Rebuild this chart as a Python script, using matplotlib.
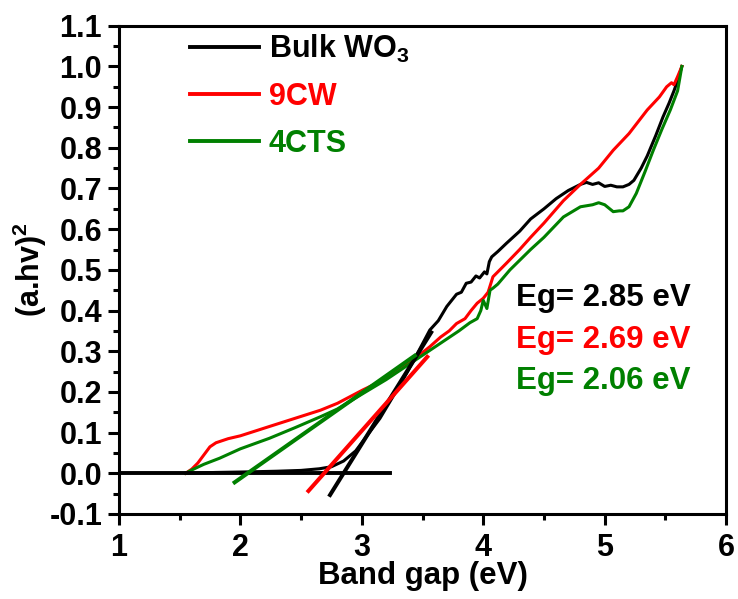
import matplotlib
matplotlib.use("Agg")
import matplotlib.pyplot as plt
import numpy as np
from matplotlib.ticker import MultipleLocator

plt.rcParams["font.family"] = ["Liberation Sans", "DejaVu Sans"]
plt.rcParams["font.weight"] = "bold"
plt.rcParams["mathtext.fontset"] = "custom"
plt.rcParams["mathtext.rm"] = "Liberation Sans:bold"
plt.rcParams["mathtext.it"] = "Liberation Sans:bold"
plt.rcParams["mathtext.bf"] = "Liberation Sans:bold"
plt.rcParams["mathtext.default"] = "rm"

# Tauc plot data: (a.hv)^2 versus photon energy
bulk_x = [1.55, 1.8, 2.0, 2.3, 2.5, 2.65, 2.75, 2.85, 2.95, 3.05, 3.15, 3.25, 3.37,
          3.45, 3.56, 3.63, 3.70, 3.78, 3.82, 3.86, 3.90, 3.94, 3.97, 4.01, 4.03,
          4.05, 4.07, 4.12, 4.19, 4.3, 4.39, 4.5, 4.6, 4.7, 4.8, 4.85, 4.9, 4.95,
          5.0, 5.05, 5.1, 5.15, 5.2, 5.24, 5.3, 5.35, 5.42, 5.48, 5.53, 5.57, 5.6, 5.635]
bulk_y = [0.0, 0.002, 0.003, 0.005, 0.007, 0.011, 0.016, 0.03, 0.055, 0.095, 0.135,
          0.185, 0.246, 0.29, 0.352, 0.375, 0.41, 0.44, 0.445, 0.467, 0.47, 0.485,
          0.48, 0.495, 0.49, 0.52, 0.532, 0.545, 0.565, 0.595, 0.625, 0.65, 0.675,
          0.695, 0.71, 0.715, 0.71, 0.714, 0.705, 0.708, 0.704, 0.704, 0.71, 0.72,
          0.75, 0.78, 0.83, 0.876, 0.91, 0.94, 0.965, 1.0]

cw_x = [1.55, 1.6, 1.65, 1.7, 1.75, 1.8, 1.85, 1.9, 2.0, 2.24, 2.45, 2.66, 2.8,
        3.01, 3.15, 3.31, 3.45, 3.56, 3.65, 3.72, 3.78, 3.85, 3.9, 3.95, 4.0, 4.04,
        4.08, 4.19, 4.3, 4.39, 4.5, 4.66, 4.8, 4.95, 5.07, 5.2, 5.35, 5.45, 5.51,
        5.55, 5.57, 5.6, 5.635]
cw_y = [0.0, 0.01, 0.025, 0.045, 0.065, 0.075, 0.08, 0.085, 0.092, 0.115, 0.135,
        0.155, 0.172, 0.205, 0.225, 0.254, 0.285, 0.311, 0.335, 0.35, 0.368, 0.38,
        0.4, 0.418, 0.43, 0.445, 0.483, 0.516, 0.55, 0.58, 0.615, 0.67, 0.71, 0.75,
        0.794, 0.835, 0.893, 0.925, 0.95, 0.96, 0.955, 0.975, 1.0]

cts_x = [1.55, 1.6, 1.7, 1.83, 2.0, 2.24, 2.45, 2.66, 2.8, 3.01, 3.2, 3.34, 3.5,
         3.6, 3.7, 3.8, 3.89, 3.95, 3.98, 4.0, 4.03, 4.056, 4.08, 4.12, 4.22, 4.39,
         4.5, 4.66, 4.8, 4.9, 4.95, 5.0, 5.07, 5.12, 5.15, 5.2, 5.26, 5.33, 5.4,
         5.47, 5.54, 5.6, 5.635]
cts_y = [0.0, 0.008, 0.022, 0.037, 0.06, 0.086, 0.112, 0.139, 0.158, 0.196, 0.23,
         0.258, 0.29, 0.31, 0.33, 0.35, 0.37, 0.38, 0.40, 0.425, 0.405, 0.45, 0.455,
         0.465, 0.50, 0.55, 0.58, 0.63, 0.655, 0.66, 0.665, 0.66, 0.643, 0.645,
         0.645, 0.655, 0.688, 0.74, 0.794, 0.845, 0.893, 0.94, 1.0]

labels = ["Bulk WO$_3$", "9CW", "4CTS"]
colors = ["black", "#ff0000", "#008000"]

# Linear fits of the absorption edge: band gap, slope, x-range
eg_values = [2.85, 2.69, 2.06]
fit_slopes = [0.48, 0.337, 0.21]
fit_ranges = [(2.73, 3.58), (2.55, 3.55), (1.94, 3.45)]
baseline_range = (1.0, 3.23)

fig = plt.figure(figsize=(7.38, 5.99), dpi=100)
ax = fig.add_axes([0.161, 0.142, 0.823, 0.815])

series = [(bulk_x, bulk_y), (cw_x, cw_y), (cts_x, cts_y)]
for (xs, ys), lab, c in zip(series, labels, colors):
    ax.plot(xs, ys, color=c, lw=2.2, label=lab)

ax.plot(baseline_range, [0, 0], color="black", lw=2.8)
for eg, s, (x0, x1), c in zip(eg_values, fit_slopes, fit_ranges, colors):
    xs = np.array([x0, x1])
    ax.plot(xs, s * (xs - eg), color=c, lw=2.9, solid_capstyle="butt")

ty = [0.43, 0.327, 0.227]
for eg, c, y in zip(eg_values, colors, ty):
    ax.text(4.27, y, f"Eg= {eg:.2f} eV", color=c, fontsize=22.5, fontweight="bold",
            va="center", ha="left")

ax.set_xlim(1, 6)
ax.set_ylim(-0.1, 1.1)
ax.xaxis.set_major_locator(MultipleLocator(1))
ax.xaxis.set_minor_locator(MultipleLocator(0.5))
ax.yaxis.set_major_locator(MultipleLocator(0.1))
ax.yaxis.set_minor_locator(MultipleLocator(0.05))
ax.yaxis.set_major_formatter(plt.FuncFormatter(lambda v, p: f"{v:.1f}"))

for sp in ax.spines.values():
    sp.set_linewidth(2.2)
ax.tick_params(which="major", direction="out", length=8, width=2.2, labelsize=22)
ax.tick_params(which="minor", direction="out", length=4, width=2.2)
ax.tick_params(axis="y", which="major", pad=4)
ax.tick_params(axis="x", which="major", pad=6)
ax.tick_params(top=False, right=False, which="both")
for lbl in ax.get_xticklabels() + ax.get_yticklabels():
    lbl.set_fontweight("bold")

ax.set_xlabel("Band gap (eV)", fontsize=22.5, fontweight="bold", labelpad=-2)
ax.set_ylabel("(a.hv)$^2$", fontsize=22, fontweight="bold", labelpad=0)

leg = ax.legend(loc="upper left", bbox_to_anchor=(0.117, 0.985), frameon=False,
                fontsize=22, handlelength=2.25, handletextpad=0.33,
                labelspacing=0.55, borderpad=0, borderaxespad=0,
                labelcolor="linecolor")
for line in leg.get_lines():
    line.set_linewidth(2.8)
for t in leg.get_texts():
    t.set_fontweight("bold")

fig.savefig("out.png", dpi=100)
